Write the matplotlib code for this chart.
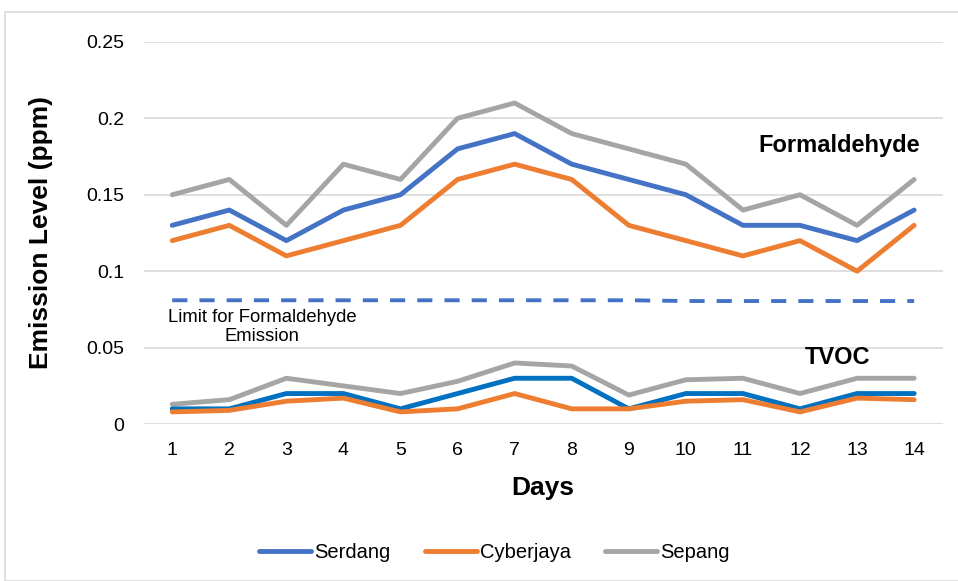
import matplotlib
matplotlib.use("Agg")
import matplotlib.pyplot as plt
from matplotlib.patches import Rectangle

plt.rcParams['font.family'] = ['Liberation Sans', 'DejaVu Sans']

days = list(range(1, 15))
day_labels = [str(d) for d in days]

# Formaldehyde (ppm)
form_serdang = [0.13, 0.14, 0.12, 0.14, 0.15, 0.18, 0.19, 0.17, 0.16, 0.15, 0.13, 0.13, 0.12, 0.14]
form_cyberjaya = [0.12, 0.13, 0.11, 0.12, 0.13, 0.16, 0.17, 0.16, 0.13, 0.12, 0.11, 0.12, 0.10, 0.13]
form_sepang = [0.15, 0.16, 0.13, 0.17, 0.16, 0.20, 0.21, 0.19, 0.18, 0.17, 0.14, 0.15, 0.13, 0.16]

# TVOC (ppm)
tvoc_serdang = [0.010, 0.010, 0.020, 0.020, 0.010, 0.020, 0.030, 0.030, 0.010, 0.020, 0.020, 0.010, 0.020, 0.020]
tvoc_cyberjaya = [0.008, 0.009, 0.015, 0.017, 0.008, 0.010, 0.020, 0.010, 0.010, 0.015, 0.016, 0.008, 0.017, 0.016]
tvoc_sepang = [0.013, 0.016, 0.030, 0.025, 0.020, 0.028, 0.040, 0.038, 0.019, 0.029, 0.030, 0.020, 0.030, 0.030]

# Formaldehyde emission limit
limit_line = [0.081, 0.081, 0.081, 0.081, 0.081, 0.081, 0.081, 0.081, 0.081, 0.0805, 0.0805, 0.0805, 0.0805, 0.0805]

y_ticks = [0, 0.05, 0.1, 0.15, 0.2, 0.25]
y_tick_labels = ["0", "0.05", "0.1", "0.15", "0.2", "0.25"]

BLUE = "#4472C4"
ORANGE = "#ED7D31"
GRAY = "#A5A5A5"
TVOC_BLUE = "#0070C0"

fig = plt.figure(figsize=(9.58, 5.81), dpi=100)
fig.patches.append(Rectangle((5 / 958, 0), 1, 1 - 12 / 581, transform=fig.transFigure,
                             fill=False, edgecolor="#D9D9D9", linewidth=1.2))

ax = fig.add_axes([0.150, 0.270, 0.834, 0.658])
lw = 3.5

ax.plot(days, form_serdang, color=BLUE, lw=lw, label="Serdang", solid_capstyle="round")
ax.plot(days, form_cyberjaya, color=ORANGE, lw=lw, label="Cyberjaya", solid_capstyle="round")
ax.plot(days, form_sepang, color=GRAY, lw=lw, label="Sepang", solid_capstyle="round")

ax.plot(days, tvoc_sepang, color=GRAY, lw=lw, solid_capstyle="round")
ax.plot(days, tvoc_serdang, color=TVOC_BLUE, lw=lw, solid_capstyle="round")
ax.plot(days, tvoc_cyberjaya, color=ORANGE, lw=lw, solid_capstyle="round")

ax.plot(days, limit_line, color=BLUE, lw=2.8, dashes=(3.9, 3.1))

ax.set_xlim(0.5, 14.5)
ax.set_ylim(0, 0.25)
ax.set_xticks(days)
ax.set_xticklabels(day_labels)
ax.set_yticks(y_ticks)
ax.set_yticklabels(y_tick_labels)
ax.tick_params(length=0, labelsize=14, colors="#000000")
ax.tick_params(axis="x", pad=13)
ax.tick_params(axis="y", pad=14)
ax.grid(axis="y", color="#D9D9D9", lw=1.2)
ax.set_axisbelow(True)
for s in ax.spines.values():
    s.set_visible(False)

ax.set_xlabel("Days", fontsize=19, fontweight="bold", labelpad=12)
ax.set_ylabel("Emission Level (ppm)", fontsize=19, fontweight="bold", labelpad=24)

ax.text(14.1, 0.182, "Formaldehyde", fontsize=17, fontweight="bold", ha="right", va="center")
ax.text(12.65, 0.0435, "TVOC", fontsize=17, fontweight="bold", ha="center", va="center")
ax.text(2.58, 0.0635, "Limit for Formaldehyde\nEmission", fontsize=13.3, ha="center", va="center",
        linespacing=1.2)

fig.legend(loc="center", bbox_to_anchor=(0.516, 1 - 553 / 581), ncol=3, frameon=False,
           fontsize=14.5, handlelength=2.6, handletextpad=0.15, columnspacing=1.7)

fig.savefig("out.png", dpi=100, facecolor="white")
